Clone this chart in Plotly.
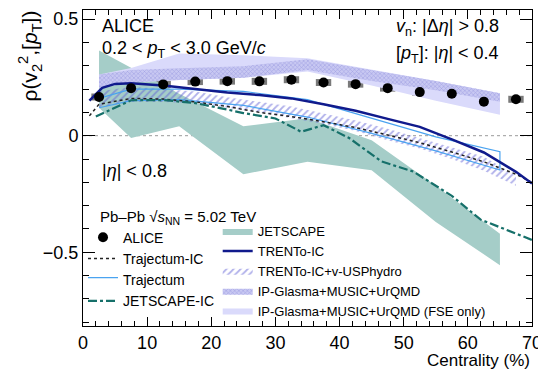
import plotly.graph_objects as go

# ---------------- data ----------------
alice_cent = [2.5, 7.5, 12.5, 17.5, 22.5, 27.5, 32.5, 37.5, 42.5, 47.5, 52.5, 57.5, 62.5, 67.5]
alice_rho = [0.166, 0.204, 0.220, 0.232, 0.234, 0.233, 0.240, 0.228, 0.221, 0.204, 0.187, 0.180, 0.146, 0.156]
alice_stat = [0.004, 0.003, 0.003, 0.003, 0.003, 0.003, 0.003, 0.003, 0.003, 0.003, 0.003, 0.004, 0.004, 0.005]
alice_syst = [0.015] * 14

band_cent = [2.5, 7.5, 15, 25, 35, 45, 55, 65]
jetscape_hi = [0.365, 0.290, 0.180, 0.040, 0.075, -0.020, -0.215, -0.420]
jetscape_lo = [0.120, -0.010, 0.040, -0.165, -0.112, -0.148, -0.370, -0.555]

trajectum_hi = [0.160, 0.200, 0.200, 0.190, 0.155, 0.075, -0.005, -0.069]
trajectum_lo = [0.120, 0.150, 0.155, 0.130, 0.080, 0.010, -0.065, -0.147]

ipg_hi = [0.262, 0.282, 0.289, 0.298, 0.328, 0.283, 0.235, 0.182]
ipg_lo = [0.205, 0.228, 0.239, 0.248, 0.282, 0.235, 0.195, 0.146]
fse_hi = [0.262, 0.290, 0.353, 0.345, 0.332, 0.285, 0.235, 0.182]
fse_lo = [0.205, 0.228, 0.239, 0.248, 0.275, 0.215, 0.150, 0.090]

usp_cent = [2.5, 7.5, 12.5, 17.5, 22.5, 27.5, 32.5, 37.5, 42.5, 47.5, 52.5, 57.5, 62.5, 67.5]
usp_hi = [0.190, 0.210, 0.200, 0.190, 0.165, 0.145, 0.125, 0.095, 0.065, 0.030, -0.010, -0.050, -0.090, -0.170]
usp_lo = [0.120, 0.145, 0.145, 0.140, 0.120, 0.100, 0.075, 0.050, 0.020, -0.020, -0.055, -0.100, -0.150, -0.215]

trento_cent = [1, 3, 5, 7.5, 12.5, 17.5, 22.5, 27.5, 32.5, 37.5, 42.5, 47.5, 52.5, 57.5, 62.5, 67.5, 70]
trento_rho = [0.150, 0.205, 0.222, 0.225, 0.215, 0.200, 0.185, 0.174, 0.160, 0.135, 0.107, 0.072, 0.038, -0.016, -0.072, -0.155, -0.205]

trajic_cent = [1, 2.5, 7.5, 12.5, 17.5, 22.5, 27.5, 32.5, 37.5, 42.5, 47.5, 52.5, 57.5, 62.5, 67.5, 70]
trajic_rho = [0.085, 0.135, 0.160, 0.157, 0.145, 0.125, 0.100, 0.082, 0.060, 0.035, 0.003, -0.030, -0.070, -0.112, -0.165, -0.200]

jic_cent = [2, 7.5, 12.5, 17.5, 22.5, 25, 30, 34, 37.5, 41.5, 46.5, 51.5, 57.5, 62, 70]
jic_rho = [0.082, 0.152, 0.153, 0.140, 0.112, 0.097, 0.074, 0.017, 0.045, -0.010, -0.110, -0.154, -0.258, -0.360, -0.447]

x_ticks = [0, 10, 20, 30, 40, 50, 60, 70]
y_ticks = [-0.5, 0, 0.5]

FONT = "Liberation Sans, Arial, Helvetica, sans-serif"


def band(x, hi, lo):
    return list(x) + list(x)[::-1], list(hi) + list(lo)[::-1]


fig = go.Figure()

# JETSCAPE band
bx, by = band(band_cent, jetscape_hi, jetscape_lo)
fig.add_trace(go.Scatter(x=bx, y=by, fill="toself", mode="lines", line=dict(width=0),
                         fillcolor="#a5cdc8", name="JETSCAPE", legend="legend2", legendrank=1))

# IP-Glasma FSE only
bx, by = band(band_cent, fse_hi, fse_lo)
fig.add_trace(go.Scatter(x=bx, y=by, fill="toself", mode="lines", line=dict(width=0),
                         fillcolor="#dadafb", name="IP-Glasma+MUSIC+UrQMD (FSE only)",
                         legend="legend2", legendrank=5))

# IP-Glasma full
bx, by = band(band_cent, ipg_hi, ipg_lo)
fig.add_trace(go.Scatter(x=bx, y=by, fill="toself", mode="lines", line=dict(width=0),
                         fillcolor="#c3c3f0",
                         fillpattern=dict(shape="x", size=3, solidity=0.35, fgcolor="#7a7ad6", bgcolor="#c8c8f2"),
                         name="IP-Glasma+MUSIC+UrQMD", legend="legend2", legendrank=4))

# TRENTo-IC + v-USPhydro hatched
bx, by = band(usp_cent, usp_hi, usp_lo)
fig.add_trace(go.Scatter(x=bx, y=by, fill="toself", mode="lines", line=dict(width=0),
                         fillcolor="rgba(0,0,0,0)",
                         fillpattern=dict(shape="/", size=5, solidity=0.35, fgcolor="#6262d6", bgcolor="rgba(0,0,0,0)"),
                         name="TRENTo-IC+v-USPhydro", legend="legend2", legendrank=3))

# Trajectum outline band
bx, by = band(band_cent, trajectum_hi, trajectum_lo)
fig.add_trace(go.Scatter(x=bx, y=by, fill="toself", mode="lines", line=dict(width=1.2, color="#4aa3f0"),
                         fillcolor="rgba(255,255,255,0)", name="Trajectum", legend="legend", legendrank=3))

# lines
fig.add_trace(go.Scatter(x=trajic_cent, y=trajic_rho, mode="lines",
                         line=dict(color="#222222", width=1.5, dash="dot"),
                         name="Trajectum-IC", legend="legend", legendrank=2))
fig.add_trace(go.Scatter(x=jic_cent, y=jic_rho, mode="lines",
                         line=dict(color="#16706a", width=2.2, dash="dashdot"),
                         name="JETSCAPE-IC", legend="legend", legendrank=4))
fig.add_trace(go.Scatter(x=trento_cent, y=trento_rho, mode="lines",
                         line=dict(color="#101a8c", width=2.5),
                         name="TRENTo-IC", legend="legend2", legendrank=2))

# ALICE systematic boxes
fig.add_trace(go.Bar(x=alice_cent, y=[2 * s for s in alice_syst],
                     base=[r - s for r, s in zip(alice_rho, alice_syst)],
                     width=2.4, marker=dict(color="#7a7a7a", line=dict(width=0)),
                     showlegend=False, legend="legend", hoverinfo="skip"))
# ALICE points
fig.add_trace(go.Scatter(x=alice_cent, y=alice_rho, mode="markers",
                         marker=dict(color="black", size=10, symbol="circle"),
                         error_y=dict(type="data", array=alice_stat, color="black", thickness=1, width=0),
                         name="ALICE", legend="legend", legendrank=1))

# zero reference line
fig.add_shape(type="line", xref="paper", x0=0, x1=1, yref="y", y0=0, y1=0,
              line=dict(color="#9a9a9a", width=1, dash="dot"), layer="below")

axis_common = dict(showline=True, linecolor="black", linewidth=1, mirror="allticks",
                   ticks="inside", tickcolor="black", showgrid=False, zeroline=False,
                   tickfont=dict(family=FONT, size=18, color="black"))

fig.update_xaxes(range=[0, 70], tickvals=x_ticks, ticklen=9,
                 minor=dict(dtick=2, ticks="inside", ticklen=5, tickcolor="black", showgrid=False),
                 **axis_common)
fig.update_yaxes(range=[-0.816, 0.539], tickvals=y_ticks, ticklen=12,
                 minor=dict(dtick=0.1, ticks="inside", ticklen=6, tickcolor="black", showgrid=False),
                 **axis_common)

ann = []
ann.append(dict(text="ALICE", x=0.038, y=0.95, xref="paper", yref="paper", xanchor="left", yanchor="middle",
                showarrow=False, font=dict(family=FONT, size=18)))
ann.append(dict(text="0.2 < <i>p</i><sub>T</sub> < 3.0 GeV/<i>c</i>", x=0.038, y=0.874, xref="paper", yref="paper",
                xanchor="left", yanchor="middle", showarrow=False, font=dict(family=FONT, size=18)))
ann.append(dict(text="<i>v</i><sub>n</sub>: |Δ<i>η</i>| > 0.8", x=0.932, y=0.945, xref="paper", yref="paper",
                xanchor="right", yanchor="middle", showarrow=False, font=dict(family=FONT, size=18)))
ann.append(dict(text="[<i>p</i><sub>T</sub>]: |<i>η</i>| < 0.4", x=0.932, y=0.86, xref="paper", yref="paper",
                xanchor="right", yanchor="middle", showarrow=False, font=dict(family=FONT, size=18)))
ann.append(dict(text="|<i>η</i>| < 0.8", x=0.038, y=0.49, xref="paper", yref="paper",
                xanchor="left", yanchor="middle", showarrow=False, font=dict(family=FONT, size=18)))
ann.append(dict(text="Pb–Pb √<i>s</i><sub>NN</sub> = 5.02 TeV", x=0.033, y=0.343, xref="paper", yref="paper",
                xanchor="left", yanchor="middle", showarrow=False, font=dict(family=FONT, size=15)))
ann.append(dict(text="Centrality (%)", x=1.0, y=-0.108, xref="paper", yref="paper",
                xanchor="right", yanchor="middle", showarrow=False, font=dict(family=FONT, size=17)))
ann.append(dict(text="ρ(v<sub>2</sub><sup>2</sup>,[<i>p</i><sub>T</sub>])", x=-0.118, y=1.003, xref="paper", yref="paper",
                xanchor="center", yanchor="top", textangle=-90, showarrow=False, font=dict(family=FONT, size=21)))

# the page body adds an 8 px offset, so the margins are shifted to land the plot box at the reference position
fig.update_layout(
    width=546, height=371,
    margin=dict(l=75, r=22, t=2, b=53, autoexpand=False),
    paper_bgcolor="white", plot_bgcolor="white",
    font=dict(family=FONT, size=15, color="black"),
    barmode="overlay",
    showlegend=True,
    annotations=ann,
    legend=dict(x=0.0, y=0.33, xanchor="left", yanchor="top", bgcolor="rgba(0,0,0,0)",
                borderwidth=0, font=dict(family=FONT, size=14), tracegroupgap=0, itemwidth=30),
    legend2=dict(x=0.30, y=0.348, xanchor="left", yanchor="top", bgcolor="rgba(0,0,0,0)",
                 borderwidth=0, font=dict(family=FONT, size=13), tracegroupgap=0, itemwidth=30),
)

fig.write_html("out.html")
